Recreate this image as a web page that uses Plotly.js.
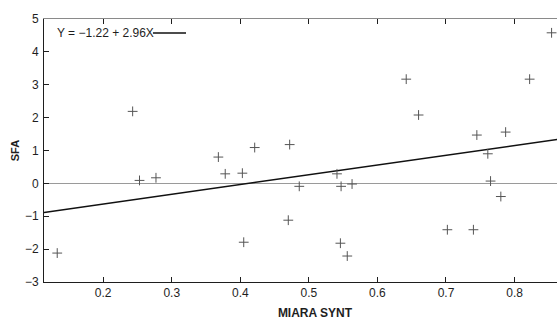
<!DOCTYPE html>
<html>
<head>
<meta charset="utf-8">
<script src="https://cdn.plot.ly/plotly-3.0.1.min.js"></script>
<style>
  html, body { margin: 0; padding: 0; overflow: hidden; background: #fff; }
  #chart { width: 590px; height: 320px; }
</style>
</head>
<body>
<div id="chart"></div>
<script>
// Data
const miaraSynt = [0.133, 0.243, 0.253, 0.277, 0.368, 0.378, 0.403, 0.405, 0.421, 0.472,
                   0.470, 0.486, 0.541, 0.547, 0.546, 0.556, 0.563, 0.642, 0.660, 0.702,
                   0.740, 0.745, 0.761, 0.765, 0.780, 0.787, 0.822, 0.854];
const sfa       = [-2.12, 2.19, 0.09, 0.17, 0.80, 0.29, 0.31, -1.79, 1.09, 1.18,
                   -1.12, -0.09, 0.29, -0.09, -1.82, -2.21, -0.02, 3.17, 2.08, -1.41,
                   -1.41, 1.47, 0.90, 0.07, -0.40, 1.56, 3.17, 4.58];
const intercept = -1.22;
const slope = 2.96;
const xTickVals = [0.2, 0.3, 0.4, 0.5, 0.6, 0.7, 0.8];
const xTickText = ['0.2', '0.3', '0.4', '0.5', '0.6', '0.7', '0.8'];
const yTickVals = [-3, -2, -1, 0, 1, 2, 3, 4, 5];
const xRange = [0.1137, 0.9042];
const yRange = [-3, 5];
const eqLabel = 'Y = \u22121.22 + 2.96X';

const fitX = xRange.slice();
const fitY = fitX.map(x => intercept + slope * x);

const fontFam = '"Liberation Sans", Arial, Helvetica, sans-serif';
const ink = '#1e1e1e';

const traces = [
  {
    x: fitX, y: fitY, type: 'scatter', mode: 'lines',
    line: {color: '#111', width: 1.5},
    showlegend: false, hoverinfo: 'skip'
  },
  {
    x: miaraSynt, y: sfa, type: 'scatter', mode: 'markers',
    marker: {symbol: 'cross-thin', size: 7, line: {color: '#555', width: 1}},
    showlegend: false
  },
  {
    x: [], y: [], xaxis: 'x2', type: 'scatter', mode: 'markers',
    showlegend: false, hoverinfo: 'skip'
  }
];

const layout = {
  width: 590, height: 320,
  margin: {l: 44, r: 4, t: 19, b: 38},
  paper_bgcolor: '#fff', plot_bgcolor: '#fff',
  font: {family: fontFam, size: 12, color: ink},
  showlegend: false,
  xaxis: {
    range: xRange, tickvals: xTickVals, ticktext: xTickText,
    ticks: 'inside', ticklen: 5, tickwidth: 1, tickcolor: ink,
    showline: true, linecolor: ink, linewidth: 1,
    showgrid: false, zeroline: false,
    tickfont: {size: 12, color: ink},
    title: {text: 'MIARA SYNT', font: {size: 12, color: ink, family: fontFam, weight: 'bold'}, standoff: 11}
  },
  xaxis2: {
    overlaying: 'x', matches: 'x', side: 'top', anchor: 'y',
    range: xRange, tickvals: xTickVals,
    ticks: 'inside', ticklen: 5, tickwidth: 1, tickcolor: ink,
    showline: true, linecolor: '#8a8a8a', linewidth: 1.2,
    showticklabels: false, showgrid: false, zeroline: false
  },
  yaxis: {
    range: yRange, tickvals: yTickVals,
    ticks: 'inside', ticklen: 5, tickwidth: 1, tickcolor: ink,
    showline: true, linecolor: ink, linewidth: 1,
    showgrid: false, ticklabelstandoff: 2,
    zeroline: true, zerolinecolor: '#9a9a9a', zerolinewidth: 1,
    tickfont: {size: 12, color: ink},
    title: {text: 'SFA', font: {size: 11, color: ink, family: fontFam, weight: 'bold'}, standoff: 3}
  },
  annotations: [
    {
      xref: 'paper', yref: 'paper', x: 0.02, y: 0.947,
      xanchor: 'left', yanchor: 'middle', showarrow: false,
      text: eqLabel, font: {size: 12, color: ink}
    }
  ],
  shapes: [
    {
      type: 'line', xref: 'paper', yref: 'paper',
      x0: 0.201, x1: 0.262, y0: 0.947, y1: 0.947,
      line: {color: '#111', width: 1.5}
    }
  ]
};

Plotly.newPlot('chart', traces, layout, {staticPlot: true, displayModeBar: false, responsive: false});
</script>
</body>
</html>
